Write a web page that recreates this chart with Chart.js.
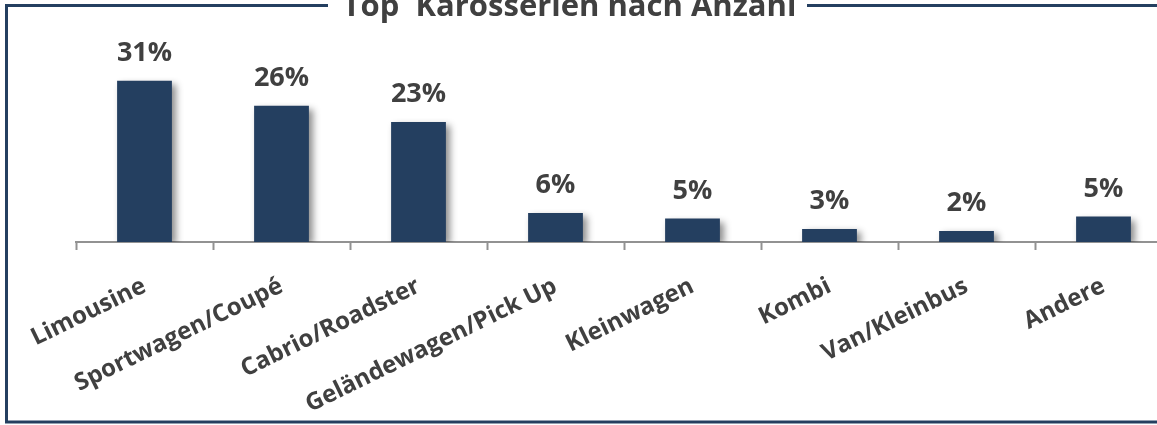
<!DOCTYPE html>
<html>
<head>
<meta charset="utf-8">
<script src="https://cdn.jsdelivr.net/npm/chart.js@4/dist/chart.umd.min.js"></script>
<style>
    html, body { margin: 0; padding: 0; background: #fff; overflow: hidden; }
    #wrap { width: 1157px; height: 425px; overflow: hidden; }
</style>
</head>
<body>
<div id="wrap"><canvas id="chart" width="1180" height="425"></canvas></div>
<script>
var titleText = 'Top  Karosserien nach Anzahl';
var categories = ['Limousine', 'Sportwagen/Coupé', 'Cabrio/Roadster', 'Geländewagen/Pick Up',
    'Kleinwagen', 'Kombi', 'Van/Kleinbus', 'Andere'];
var shares = [31.0, 26.2, 23.1, 5.6, 4.5, 2.5, 2.1, 4.9];

var navy = '#243f60';
var textColor = '#404040';

// frame with the title sitting on the top border
var framePlugin = {
    id: 'frame',
    beforeDraw: function(chart) {
        var ctx = chart.ctx;
        ctx.save();
        ctx.strokeStyle = navy;
        ctx.lineWidth = 3;
        ctx.strokeRect(6.5, 5.5, 1190, 416.5);
        ctx.fillStyle = '#fff';
        ctx.fillRect(328, 0, 479, 12);
        ctx.font = 'bold 31px "Open Sans"';
        ctx.fillStyle = textColor;
        ctx.textAlign = 'center';
        ctx.textBaseline = 'alphabetic';
        ctx.fillText(titleText, 569.5, 16);
        ctx.restore();
    },
    beforeDatasetDraw: function(chart) {
        var ctx = chart.ctx;
        ctx.save();
        ctx.shadowColor = 'rgba(0,0,0,0.45)';
        ctx.shadowBlur = 7;
        ctx.shadowOffsetX = 4;
        ctx.shadowOffsetY = 3;
    },
    afterDatasetDraw: function(chart) {
        chart.ctx.restore();
    },
    afterDatasetsDraw: function(chart) {
        var ctx = chart.ctx;
        var meta = chart.getDatasetMeta(0);
        ctx.save();
        ctx.font = 'bold 27px "Open Sans"';
        ctx.fillStyle = textColor;
        ctx.textAlign = 'center';
        ctx.textBaseline = 'alphabetic';
        meta.data.forEach(function(bar, i) {
            ctx.fillText(Math.round(shares[i]) + '%', bar.x, bar.y - 20);
        });
        ctx.restore();
    }
};

new Chart(document.getElementById('chart'), {
    type: 'bar',
    data: {
        labels: categories,
        datasets: [{
            data: shares,
            backgroundColor: navy,
            borderWidth: 0,
            barPercentage: 0.4,
            categoryPercentage: 1
        }]
    },
    options: {
        responsive: false,
        animation: false,
        layout: { padding: { left: 76, right: 8, top: 34, bottom: 0 } },
        plugins: {
            legend: { display: false },
            tooltip: { enabled: false },
            title: { display: false }
        },
        scales: {
            x: {
                afterFit: function(scale) { scale.height = 183; },
                grid: {
                    offset: true,
                    drawOnChartArea: false,
                    drawTicks: true,
                    tickLength: 8,
                    tickColor: '#929292',
                    tickWidth: 2
                },
                border: { display: true, color: '#929292', width: 2 },
                ticks: {
                    autoSkip: false,
                    minRotation: 26,
                    maxRotation: 26,
                    padding: 22,
                    color: textColor,
                    font: { family: 'Open Sans', weight: 'bold', size: 24 }
                }
            },
            y: {
                display: false,
                min: 0,
                max: 40
            }
        }
    },
    plugins: [framePlugin]
});
</script>
</body>
</html>
